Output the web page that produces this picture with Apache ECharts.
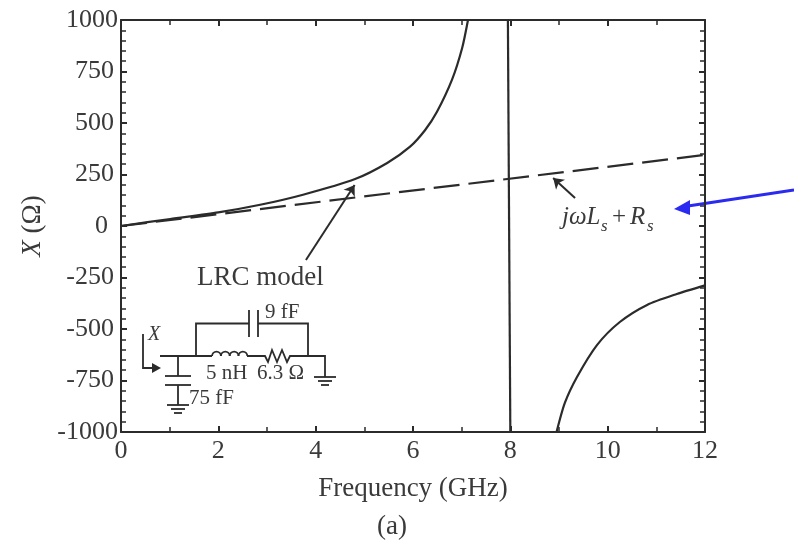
<!DOCTYPE html>
<html><head><meta charset="utf-8">
<style>html,body{margin:0;padding:0;background:#fff}#c{width:794px;height:541px}</style>
<script src="https://cdn.jsdelivr.net/npm/echarts@6/dist/echarts.min.js"></script>
</head><body><div id="c"></div>
<script>
const lrcLow = [[0,0],[1.01,34],[2,66],[2.86,103],[3.74,152],[4.81,228],[5.47,306],[5.94,385],[6.25,466],[6.49,553],[6.8,709],[7.01,864],[7.13,1000]];
const lrcSpike = [[7.95,1000],[8.0,-1000]];
const lrcHigh = [[8.95,-1000],[9.12,-859],[9.37,-733],[9.78,-578],[10.25,-466],[10.81,-383],[11.42,-330],[12,-288]];
const ideal = [[0,0],[12,345]];
const arrowLrc = [[3.8,-165],[4.8,199]];
const arrowIdeal = [[9.33,136],[8.88,233]];
const xTitle = 'Frequency (GHz)';
const caption = '(a)';

const ink = '#2b2b2b', txt = '#3a3a3a';
const serif = '"Liberation Serif","Times New Roman",serif';
const chart = echarts.init(document.getElementById('c'), null, {renderer:'canvas'});

const wire = pts => ({type:'polyline', shape:{points:pts}, style:{stroke:ink, lineWidth:1.8, fill:null}, silent:true});
const label = (x,y,text,size,style) => ({type:'text', x, y, style:{text, fill:txt, font:(style?style+' ':'')+size+'px '+serif, textVerticalAlign:'middle'}, silent:true});
const coil = cx => ({type:'arc', shape:{cx, cy:356, r:4.4, startAngle:Math.PI, endAngle:0, clockwise:true}, style:{stroke:ink, lineWidth:1.8, fill:null}, silent:true});
const ground = (cx,y) => [wire([[cx-11,y],[cx+11,y]]), wire([[cx-7,y+4],[cx+7,y+4]]), wire([[cx-4,y+8],[cx+4,y+8]])];

const graphics = [
  wire([[160,356],[212,356]]), wire([[196,356],[196,323.5],[249,323.5]]),
  wire([[249,310],[249,337]]), wire([[258,310],[258,337]]),
  wire([[258,323.5],[308,323.5],[308,356]]),
  coil(216.5),coil(225.3),coil(234.1),coil(242.9),
  wire([[247,356],[265,356],[268,362],[272,350],[277,362],[282,350],[287,362],[290,356],[325,356],[325,377]]),
  ...ground(325,377),
  wire([[178,356],[178,376]]), wire([[165,376],[191,376]]), wire([[165,385],[191,385]]), wire([[178,385],[178,405]]),
  ...ground(178,405),
  wire([[143,334],[143,368],[156,368]]),
  {type:'polygon', shape:{points:[[161,368],[152,363],[152,373]]}, style:{fill:ink}, silent:true},
  label(148,335,'X',20,'italic'),
  label(265,312,'9 fF',21), label(206,373,'5 nH',21), label(257,373,'6.3 Ω',21), label(189,398,'75 fF',21),
  label(197,278,'LRC model',27),
  label(562,217,'jωL',25,'italic'),
  label(601,227,'s',17,'italic'),
  label(612,217,'+',25),
  label(630,217,'R',25,'italic'),
  label(647,227,'s',17,'italic'),
  label(377,527,caption,27),
  {type:'line', shape:{x1:794,y1:190,x2:688,y2:206}, style:{stroke:'#2a2af0', lineWidth:3}, silent:true},
  {type:'polygon', shape:{points:[[674,209],[690,200],[690,215]]}, style:{fill:'#2a2af0'}, silent:true}
];

const plain = {color:ink, width:2.2};
const lineSeries = (data, extra) => Object.assign({type:'line', data, showSymbol:false, symbol:'none', smooth:0.25, lineStyle:plain, silent:true, z:3, clip:true}, extra||{});
const arrow = (pts) => ({silent:true, symbol:['none','arrow'], symbolSize:10, label:{show:false}, lineStyle:{color:ink,width:2,type:'solid'}, emphasis:{disabled:true},
  data:[[{coord:pts[0]},{coord:pts[1]}]]});

const yLabel = v => v===0 ? '{z|0}' : Math.abs(v)===1000 ? '{k|'+v+'}' : '{s|'+v+'}';
const richBase = {fontSize:26,fontFamily:serif,color:txt};

chart.setOption({
  animation:false,
  backgroundColor:'#ffffff',
  textStyle:{fontFamily:serif},
  grid:{left:121,right:89,top:20,bottom:109,containLabel:false},
  xAxis:[
    {type:'value',min:0,max:12,interval:2,position:'bottom',
     axisLine:{onZero:false,lineStyle:{color:ink,width:2}},axisTick:{inside:true,length:6,lineStyle:{color:ink,width:2}},
     minorTick:{show:true,splitNumber:2,length:5,lineStyle:{color:ink,width:1.5}},splitLine:{show:false},
     axisLabel:{color:txt,fontSize:26,margin:6,fontFamily:serif,formatter:v=>String(v),hideOverlap:false},
     name:xTitle,nameLocation:'middle',nameGap:43,nameTextStyle:{color:txt,fontSize:27,fontFamily:serif}},
    {type:'value',min:0,max:12,interval:2,position:'top',
     axisLine:{onZero:false,lineStyle:{color:ink,width:2}},axisTick:{inside:true,length:6,lineStyle:{color:ink,width:2}},
     minorTick:{show:true,splitNumber:2,length:5,lineStyle:{color:ink,width:1.5}},splitLine:{show:false},axisLabel:{show:false}}
  ],
  yAxis:[
    {type:'value',min:-1000,max:1000,interval:250,position:'left',
     axisLine:{onZero:false,lineStyle:{color:ink,width:2}},axisTick:{inside:true,length:6,lineStyle:{color:ink,width:2}},
     minorTick:{show:true,splitNumber:5,length:5,lineStyle:{color:ink,width:1.5}},splitLine:{show:false},
     axisLabel:{margin:3,formatter:yLabel,hideOverlap:false,rich:{
       k:Object.assign({},richBase),
       s:Object.assign({padding:[0,4,0,0]},richBase),
       z:Object.assign({padding:[0,10,0,0]},richBase)}},
     name:'{i|X} ({n|Ω})',nameLocation:'middle',nameGap:74,nameRotate:90,
     nameTextStyle:{color:txt,fontSize:27,fontFamily:serif,rich:{i:{fontStyle:'italic',fontSize:27,fontFamily:serif,color:txt},n:{fontSize:27,fontFamily:serif,color:txt}}}},
    {type:'value',min:-1000,max:1000,interval:250,position:'right',
     axisLine:{onZero:false,lineStyle:{color:ink,width:2}},axisTick:{inside:true,length:6,lineStyle:{color:ink,width:2}},
     minorTick:{show:true,splitNumber:5,length:5,lineStyle:{color:ink,width:1.5}},splitLine:{show:false},axisLabel:{show:false}}
  ],
  series:[
    lineSeries(lrcLow),
    lineSeries(lrcSpike,{smooth:false}),
    lineSeries(lrcHigh),
    lineSeries(ideal,{smooth:false,lineStyle:{color:ink,width:2.2,type:[26,9]},markLine:arrow(arrowLrc)}),
    {type:'line',data:[],symbol:'none',markLine:arrow(arrowIdeal)}
  ],
  graphic:graphics
});
</script></body></html>
